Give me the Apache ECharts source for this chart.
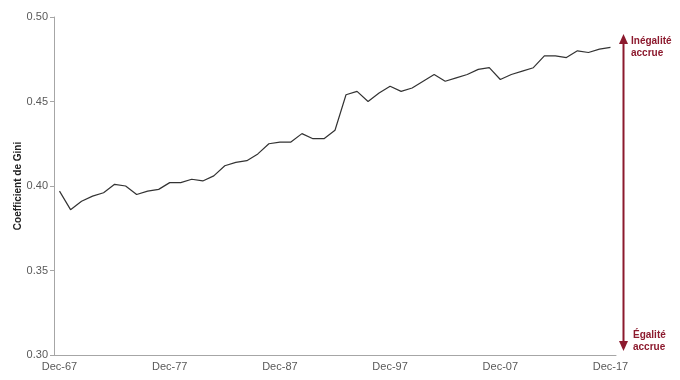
<!DOCTYPE html>
<html><head><meta charset="utf-8">
<script src="https://cdn.jsdelivr.net/npm/echarts@6/dist/echarts.min.js"></script>
<style>html,body{margin:0;padding:0;background:#fff}#c{width:680px;height:380px}</style>
</head><body><div id="c"></div>
<script>
var years = [];
for (var y = 1967; y <= 2017; y++) years.push('Dec-' + String(y).slice(2));
var gini = [0.397,0.386,0.391,0.394,0.396,0.401,0.400,0.395,0.397,0.398,
            0.402,0.402,0.404,0.403,0.406,0.412,0.414,0.415,0.419,0.425,
            0.426,0.426,0.431,0.428,0.428,0.433,0.454,0.456,0.450,0.455,
            0.459,0.456,0.458,0.462,0.466,0.462,0.464,0.466,0.469,0.470,
            0.463,0.466,0.468,0.470,0.477,0.477,0.476,0.480,0.479,0.481,0.482];
var yTicks = [0.30,0.35,0.40,0.45,0.50];
var yTitle = 'Coefficient de Gini';
var topNote = ['Inégalité','accrue'];
var bottomNote = ['Égalité','accrue'];

var red = '#8c1a2e';
var chart = echarts.init(document.getElementById('c'));
chart.setOption({
  animation: false,
  grid: {left: 54, right: 64, top: 17, bottom: 25, outerBoundsMode: 'none', containLabel: false},
  xAxis: {
    type: 'category', data: years, boundaryGap: true,
    axisLine: {lineStyle: {color: '#a6a6a6'}},
    axisTick: {interval: 9, length: 4, lineStyle: {color: '#a6a6a6'}},
    axisLabel: {interval: 9, color: '#595959', fontFamily: 'Liberation Sans', fontSize: 11, margin: 6}
  },
  yAxis: {
    type: 'value', min: yTicks[0], max: yTicks[yTicks.length-1], interval: 0.05,
    name: yTitle, nameLocation: 'middle', nameGap: 31, nameMoveOverlap: false,
    nameTextStyle: {color: '#222', fontFamily: 'Liberation Sans', fontSize: 10, fontWeight: 'bold'},
    axisLine: {show: true, lineStyle: {color: '#a6a6a6'}},
    axisTick: {show: true, length: 4, lineStyle: {color: '#a6a6a6'}},
    splitLine: {show: false},
    axisLabel: {color: '#595959', fontFamily: 'Liberation Sans', fontSize: 11, margin: 6,
      formatter: function(v){ return v.toFixed(2); }}
  },
  series: [{
    type: 'line', data: gini, symbol: 'none',
    lineStyle: {color: '#333333', width: 1.2}
  }],
  graphic: [
    {type: 'line', shape: {x1: 623.5, y1: 40, x2: 623.5, y2: 346}, style: {stroke: red, lineWidth: 2}},
    {type: 'polygon', shape: {points: [[623.5,34],[619,44],[628,44]]}, style: {fill: red}},
    {type: 'polygon', shape: {points: [[623.5,351],[619,341],[628,341]]}, style: {fill: red}},
    {type: 'text', left: 631, top: 35, style: {text: topNote.join('\n'), fill: red,
      font: 'bold 10px "Liberation Sans"', lineHeight: 12}},
    {type: 'text', left: 633, top: 329, style: {text: bottomNote.join('\n'), fill: red,
      font: 'bold 10px "Liberation Sans"', lineHeight: 12}}
  ]
});
</script></body></html>
